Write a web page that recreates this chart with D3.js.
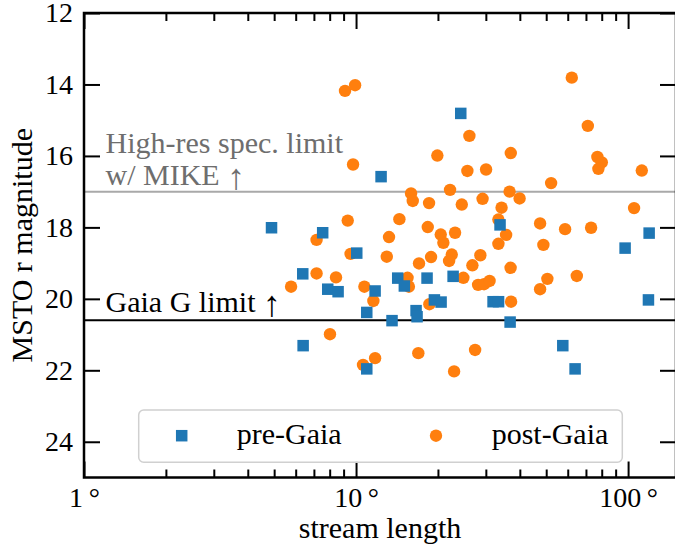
<!DOCTYPE html>
<html>
<head>
<meta charset="utf-8">
<script src="https://cdn.jsdelivr.net/npm/d3@7"></script>
<style>
  body { margin: 0; background: #fff; }
  text { font-family: 'Liberation Serif', 'Times New Roman', serif; }
</style>
</head>
<body>
<div id="chart"></div>
<script>
// stream length (deg) and MSTO r magnitude
const preLength = [4.89, 6.37, 7.54, 7.87, 8.59, 6.39, 10.06, 12.36, 11.75, 10.95, 10.95, 13.56, 14.23, 15.05, 16.62,
                   16.76, 18.24, 19.41, 20.54, 22.74, 24.26, 31.89, 33.41, 33.83, 36.84, 57.54, 63.85, 97.5, 119.5, 118.8]
const preMag = [18.01, 19.30, 18.15, 19.73, 19.80, 21.31, 18.72, 16.58, 19.78, 20.38, 21.96, 20.61, 19.42, 19.64, 20.33,
                20.50, 19.42, 20.03, 20.09, 19.37, 14.81, 20.08, 20.08, 17.93, 20.65, 21.31, 21.96, 18.58, 18.16, 20.03]

const postLength = [5.77, 7.16, 7.16, 8.44, 8.02, 9.11, 9.92, 9.75, 9.32, 9.55, 10.73, 11.58, 10.61, 11.75, 12.97,
                    13.22, 14.43, 15.93, 16.16, 15.46, 15.64, 17.04, 16.94, 18.35, 18.55, 18.87, 18.60, 19.90, 20.48, 20.94,
                    22.16, 23.12, 22.48, 21.98, 22.93, 24.47, 24.80, 25.66, 26.10, 26.77, 27.39, 28.10, 29.55, 30.96, 28.64,
                    29.18, 30.06, 33.36, 33.36, 34.27, 35.61, 36.67, 37.05, 36.99, 37.15, 39.92, 47.48, 47.48, 48.82, 50.50,
                    52.12, 58.67, 62.09, 64.78, 71.11, 73.11, 77.11, 80.05, 77.77, 105.2, 112.3]
const postMag = [19.66, 18.35, 19.29, 19.40, 20.99, 14.18, 14.02, 16.24, 17.81, 18.74, 19.66, 20.06, 21.85, 21.66, 18.82,
                 18.27, 17.77, 17.05, 17.26, 19.41, 19.66, 19.01, 21.52, 17.99, 17.32, 18.83, 20.15, 15.99, 18.20, 18.43,
                 16.95, 18.15, 18.76, 18.94, 22.03, 17.36, 19.41, 16.42, 15.44, 19.06, 21.43, 19.61, 19.59, 19.50, 18.78,
                 17.20, 16.38, 17.78, 18.46, 17.45, 18.21, 17.00, 15.92, 19.13, 20.08, 17.19, 17.89, 19.73, 18.49, 19.44,
                 16.76, 18.05, 13.81, 19.36, 15.16, 18.01, 16.03, 16.18, 16.36, 17.46, 16.41]

const xDomain = [1, 150]
const yDomain = [12, 25]
const xMajor = [1, 10, 100]
const xMinor = [2, 3, 4, 5, 6, 7, 8, 9, 20, 30, 40, 50, 60, 70, 80, 90]
const yTicks = [12, 14, 16, 18, 20, 22, 24]
const specLimit = 17.0
const gaiaLimit = 20.6

const width = 675, height = 552
const padding = { top: 13, bottom: 74.5, left: 84, right: -1 }
const innerWidth = width - padding.left - padding.right
const innerHeight = height - padding.top - padding.bottom

const blue = '#1f77b4', orange = '#ff7f0e'

const xScale = d3.scaleLog().domain(xDomain).range([0, innerWidth])
const yScale = d3.scaleLinear().domain(yDomain).range([0, innerHeight])

const svg = d3.select('#chart').append('svg')
              .attr('width', width)
              .attr('height', height)

const graph = svg.append('g')
                 .attr('transform', `translate(${padding.left}, ${padding.top})`)

// limit lines
graph.append('line')
     .attr('x1', 0).attr('x2', innerWidth)
     .attr('y1', yScale(specLimit)).attr('y2', yScale(specLimit))
     .style('stroke', '#a9a9a9').style('stroke-width', 2)
graph.append('line')
     .attr('x1', 0).attr('x2', innerWidth)
     .attr('y1', yScale(gaiaLimit)).attr('y2', yScale(gaiaLimit))
     .style('stroke', '#000').style('stroke-width', 2)

// annotations
graph.append('text')
     .attr('x', xScale(1.2)).attr('y', yScale(specLimit) - 39)
     .style('font-size', '30px').style('fill', '#6e6e6e')
     .text('High-res spec. limit')
const mike = graph.append('text')
     .attr('x', xScale(1.2)).attr('y', yScale(specLimit) - 7)
     .style('font-size', '30px').style('fill', '#6e6e6e')
mike.append('tspan').text('w/ MIKE ')
mike.append('tspan').attr('dy', 4).style('font-size', '36px').text('\u2191')
const gaia = graph.append('text')
     .attr('x', xScale(1.2)).attr('y', yScale(gaiaLimit) - 8)
     .style('font-size', '30px').style('fill', '#000')
gaia.append('tspan').text('Gaia G limit ')
gaia.append('tspan').attr('dy', 4).style('font-size', '36px').text('\u2191')

// post-Gaia circles first, squares on top
graph.append('g').selectAll('circle')
     .data(d3.zip(postLength, postMag))
     .join('circle')
     .attr('cx', d => xScale(d[0]))
     .attr('cy', d => yScale(d[1]))
     .attr('r', 6.2)
     .style('fill', orange)

const sq = 11.5
graph.append('g').selectAll('rect')
     .data(d3.zip(preLength, preMag))
     .join('rect')
     .attr('x', d => xScale(d[0]) - sq / 2)
     .attr('y', d => yScale(d[1]) - sq / 2)
     .attr('width', sq).attr('height', sq)
     .style('fill', blue)

// axes, ticks pointing in
const fmtDeg = d => d + '\u2009\u00b0'
graph.append('g')
     .attr('transform', `translate(0, ${innerHeight})`)
     .call(d3.axisBottom(xScale).tickValues(xMajor).tickFormat(fmtDeg).tickSize(-16).tickPadding(10))
graph.append('g')
     .attr('transform', `translate(0, ${innerHeight})`)
     .call(d3.axisBottom(xScale).tickValues(xMinor).tickFormat('').tickSize(-8))
graph.append('g')
     .call(d3.axisTop(xScale).tickValues(xMajor).tickFormat('').tickSize(-16))
graph.append('g')
     .call(d3.axisTop(xScale).tickValues(xMinor).tickFormat('').tickSize(-8))
graph.append('g')
     .call(d3.axisLeft(yScale).tickValues(yTicks).tickSize(-16).tickPadding(11))
graph.append('g')
     .attr('transform', `translate(${innerWidth}, 0)`)
     .call(d3.axisRight(yScale).tickValues(yTicks).tickFormat('').tickSize(-16))

graph.selectAll('.domain').attr('display', 'none')
graph.selectAll('.tick line').style('stroke', '#000').style('stroke-width', 2)
graph.selectAll('.tick text').filter(function () { return this.textContent === '' }).remove()
graph.selectAll('.tick text')
     .style('font-size', '28px')
     .style('font-family', "'Liberation Serif', serif")
     .style('fill', '#000')

// frame
graph.append('rect')
     .attr('width', innerWidth).attr('height', innerHeight)
     .style('fill', 'none').style('stroke', '#000').style('stroke-width', 2.5)

// legend
const legend = graph.append('g')
legend.append('rect')
      .attr('x', 138.7 - padding.left).attr('y', 410 - padding.top)
      .attr('width', 483.6).attr('height', 52.3)
      .attr('rx', 5)
      .style('fill', '#fff').style('fill-opacity', 0.8)
      .style('stroke', '#d0d0d0').style('stroke-width', 1.5)
legend.append('rect')
      .attr('x', 181.7 - padding.left - sq / 2).attr('y', 435.7 - padding.top - sq / 2)
      .attr('width', sq).attr('height', sq)
      .style('fill', blue)
legend.append('text')
      .attr('x', 236.7 - padding.left).attr('y', 444 - padding.top)
      .style('font-size', '30px')
      .text('pre-Gaia')
legend.append('circle')
      .attr('cx', 436 - padding.left).attr('cy', 435.7 - padding.top)
      .attr('r', 6.2)
      .style('fill', orange)
legend.append('text')
      .attr('x', 491.7 - padding.left).attr('y', 444 - padding.top)
      .style('font-size', '30px')
      .text('post-Gaia')

// axis labels
svg.append('text')
   .attr('x', padding.left + innerWidth / 2)
   .attr('y', 538)
   .attr('text-anchor', 'middle')
   .style('font-size', '30px')
   .text('stream length')

svg.append('text')
   .attr('transform', `translate(32, ${padding.top + innerHeight / 2}) rotate(-90)`)
   .attr('text-anchor', 'middle')
   .style('font-size', '30px')
   .text('MSTO r magnitude')
</script>
</body>
</html>
